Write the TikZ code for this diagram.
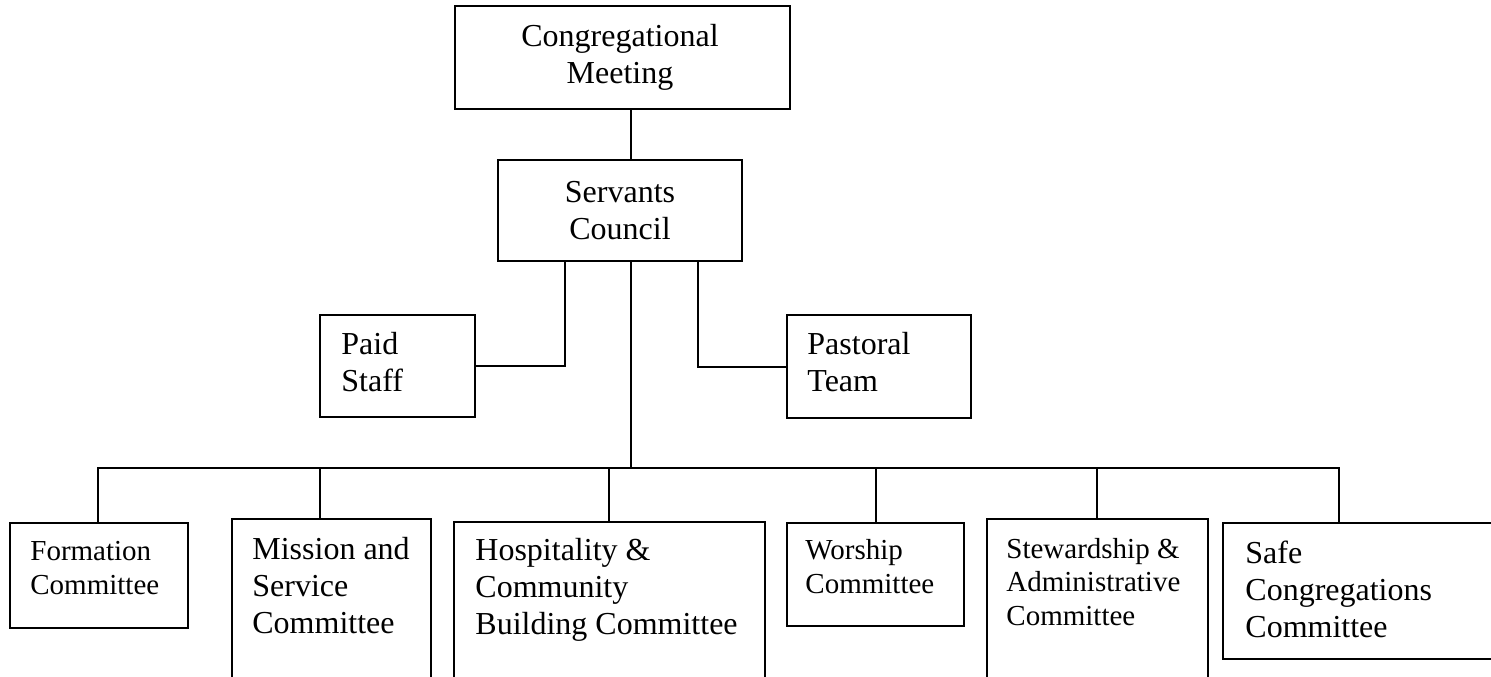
\documentclass[tikz,border=0pt]{standalone}
\usepackage{fontspec}
\setmainfont{Liberation Serif}
\usetikzlibrary{fit}
\tikzset{
  box/.style={draw, line width=1pt, inner sep=0pt},
  conn/.style={line width=1pt},
  big/.style={font=\fontsize{16}{18.4}\selectfont, align=left, anchor=base west, inner sep=0pt},
  small/.style={font=\fontsize{14.5}{16.7}\selectfont, align=left, anchor=base west, inner sep=0pt}
}

\begin{document}
\begin{tikzpicture}[x=0.5pt,y=-0.5pt]
\useasboundingbox (0,0) rectangle (1491,676);

% boxes
\foreach \n/\a/\b/\c/\d in {cm/455/6/790/109, sc/498/160/742/261,
  paid/320/315/475/417, past/787/315/971/418,
  form/10/523/188/628, miss/232/519/431/690, hosp/454/522/765/690,
  wors/787/523/964/626, stew/987/519/1208/690, safe/1223/523/1510/659}{
\node[box, fit={(\a,\b) (\c,\d)}] (\n) {};
}

% texts (placed at the baseline of their last line)
\node[big, align=center, anchor=base] (cmL) at (620,83) {Congregational\\Meeting};
\node[big, align=center, anchor=base] (scL) at (620,239) {Servants\\Council};
\node[big] (paidL) at (341,391) {Paid\\Staff};
\node[big] (pastL) at (807,391) {Pastoral\\Team};

\node[small] (formL) at (30,594) {Formation\\Committee};
\node[big] (missL) at (252,633) {Mission and\\Service\\Committee};
\node[big] (hospL) at (475,634) {Hospitality \&\\Community\\Building Committee};
\node[small] (worsL) at (805,593) {Worship\\Committee};
\node[small] (stewL) at (1006,625) {Stewardship \&\\Administrative\\Committee};
\node[big] (safeL) at (1245,637) {Safe\\Congregations\\Committee};

% lines
\coordinate (bus) at (631,468);
\draw[conn] (cm.south -| bus) -- (sc.north -| bus);
\draw[conn] (sc.south -| bus) -- (bus);
\draw[conn] (paid.east) -| (sc.south -| 565,0);
\draw[conn] (past.west) -| (sc.south -| 698,0);

\draw[conn] (form.north -| 98,0) |- (bus) -| (safe.north -| 1339,0);
\foreach \n/\x in {miss/320, hosp/609, wors/876, stew/1097}{
\draw[conn] (bus -| \x,0) -- (\n.north -| \x,0);
}
\end{tikzpicture}
\end{document}
